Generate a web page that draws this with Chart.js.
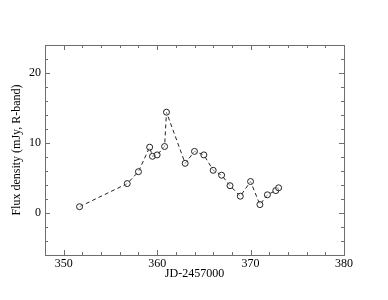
<!DOCTYPE html>
<html>
<head>
  <meta charset="UTF-8" />
  <title>Flux density light curve</title>
  <script src="https://cdn.jsdelivr.net/npm/chart.js"></script>
  <style>
    html, body { margin: 0; padding: 0; background: #fff; }
    .wrap { position: relative; width: 388px; height: 300px; }
  </style>
</head>
<body>
  <div class="wrap">
    <canvas id="lc"></canvas>
  </div>

  <script>
    // JD-2457000 and R-band flux (mJy)
    const jd = [351.7, 356.8, 358.0, 359.2, 359.5, 360.0, 360.8, 361.0, 363.0, 364.0,
                365.0, 366.0, 366.9, 367.8, 368.9, 370.0, 371.0, 371.8, 372.7, 373.0];
    const flux = [0.9, 4.2, 5.9, 9.4, 8.1, 8.3, 9.5, 14.4, 7.1, 8.8,
                  8.3, 6.1, 5.4, 3.9, 2.4, 4.5, 1.2, 2.6, 3.2, 3.6];
    const xTicks = [350, 360, 370, 380];
    const yTicks = [0, 10, 20];

    const axisColor = "#6e6e6e";
    const serif = "'Liberation Serif', 'DejaVu Serif', serif";

    // frame + inward ticks on all four sides
    const framePlugin = {
      id: "frame",
      afterDraw(chart) {
        const { ctx, chartArea: a, scales } = chart;
        const xs = scales.x, ys = scales.y;
        ctx.save();
        ctx.strokeStyle = axisColor;
        ctx.lineWidth = 1;
        ctx.strokeRect(a.left + 0.5, a.top + 0.5, a.right - a.left, a.bottom - a.top);
        ctx.beginPath();
        for (let v = xs.min; v <= xs.max; v += 2) {
          const px = Math.round(xs.getPixelForValue(v)) + 0.5;
          const len = v % 10 === 0 ? 5 : 3;
          ctx.moveTo(px, a.bottom); ctx.lineTo(px, a.bottom - len);
          ctx.moveTo(px, a.top); ctx.lineTo(px, a.top + len);
        }
        for (let v = ys.min; v <= ys.max; v += 2) {
          const py = Math.round(ys.getPixelForValue(v)) + 0.5;
          const len = v % 10 === 0 ? 5 : 3;
          ctx.moveTo(a.left, py); ctx.lineTo(a.left + len, py);
          ctx.moveTo(a.right, py); ctx.lineTo(a.right - len, py);
        }
        ctx.stroke();
        ctx.restore();
      }
    };

    new Chart(document.getElementById("lc"), {
      type: "scatter",
      data: {
        datasets: [{
          data: jd.map((x, i) => ({ x, y: flux[i] })),
          showLine: true,
          borderColor: "#222",
          borderWidth: 1,
          borderDash: [4, 3],
          pointRadius: 3,
          pointBorderWidth: 1,
          pointBorderColor: "#222",
          pointBackgroundColor: "rgba(255,255,255,0.5)"
        }]
      },
      options: {
        responsive: true,
        maintainAspectRatio: false,
        animation: false,
        layout: { padding: { left: 0, right: 44, top: 45, bottom: 0 } },
        plugins: { legend: { display: false }, tooltip: { enabled: false } },
        scales: {
          x: {
            type: "linear",
            min: 348,
            max: 380,
            afterBuildTicks: s => { s.ticks = xTicks.map(v => ({ value: v })); },
            afterFit: s => { s.height = 45; },
            grid: { display: false, drawTicks: false },
            border: { display: false },
            ticks: { color: "#000", padding: 2, maxRotation: 0, font: { family: serif, size: 12 } },
            title: {
              display: true,
              text: "JD-2457000",
              color: "#000",
              padding: { top: 0, bottom: 19 },
              font: { family: serif, size: 12 }
            }
          },
          y: {
            min: -6,
            max: 24,
            afterBuildTicks: s => { s.ticks = yTicks.map(v => ({ value: v })); },
            afterFit: s => { s.width = 45; },
            grid: { display: false, drawTicks: false },
            border: { display: false },
            ticks: { color: "#000", padding: 4, font: { family: serif, size: 12 } },
            title: {
              display: true,
              text: "Flux density (mJy, R-band)",
              color: "#000",
              padding: { top: 10, bottom: 0 },
              font: { family: serif, size: 12 }
            }
          }
        }
      },
      plugins: [framePlugin]
    });
  </script>
</body>
</html>
